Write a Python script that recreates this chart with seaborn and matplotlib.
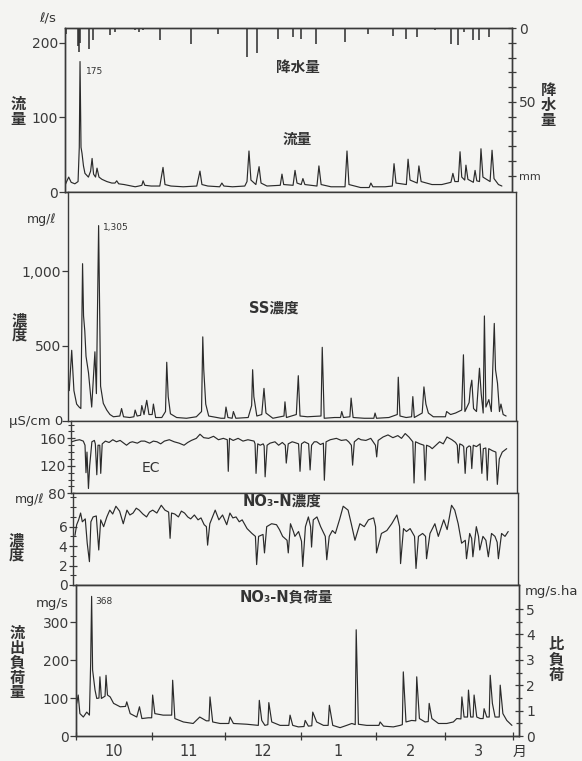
import numpy as np
import pandas as pd
import matplotlib
matplotlib.use("Agg")
import matplotlib.pyplot as plt
import seaborn as sns

# ---------------- data (day 0 = Oct 1) ----------------
month_labels = ["10", "11", "12", "1", "2", "3"]
month_edges = [0, 31, 61, 92, 123, 151, 179]
month_mid = [15.5, 46, 76.5, 107.5, 137, 165]

rain_day = [0.3, 5.4, 5.7, 6.0, 9.9, 11.5, 18.3, 20.3, 28.4, 30.2, 31.8, 38.6, 51.0, 62.3,
            73.8, 77.8, 86.6, 92.4, 95.7, 101.9, 113.7, 123.2, 133.3, 138.4, 142.8,
            150.2, 156.6, 159.7, 162.1, 165.8, 168.2, 172.3]
rain_mm = [3.8, 12, 16.2, 10, 13.9, 8.3, 4.9, 2.7, 1.6, 2.7, 1.6, 8.3, 10.5, 3.8,
           19.6, 16.9, 7.2, 6.1, 7.2, 10.5, 9.4, 3.8, 5.6, 7.2, 6.1,
           1.1, 10.5, 11.7, 2.7, 8.3, 7.8, 6.1]

flow_day = [0, 0.8, 1.5, 2.5, 4, 5.3, 5.8, 6.1, 6.5, 6.9, 7.5, 8.1, 9.5, 10.4, 11, 11.6, 12.4, 13,
            13.8, 15, 17, 19, 20.3, 21, 21.8, 24, 27, 28.5, 30, 31.2, 31.7, 32.4, 35, 38.5, 39.8,
            40.6, 43, 48, 53.5, 54.8, 55.6, 58, 62.8, 63.7, 64.5, 68, 73, 73.9, 74.7, 75.5, 77.5,
            78.8, 79.6, 82, 87.4, 88.1, 88.8, 92.6, 93.4, 94.2, 95.9, 96.6, 97.4, 102.3, 103.1,
            104, 108, 113.7, 114.5, 115.3, 120, 123.5, 124.2, 125, 130, 132.9, 133.6, 134.4,
            138.6, 139.3, 140.1, 143, 143.7, 144.6, 149, 153, 156.7, 157.5, 158.3, 159.7, 160.4,
            161.1, 162.3, 162.8, 163.6, 165.8, 166.5, 167.2, 168.3, 168.9, 169.7, 172.6, 173.4,
            174.2, 176, 177.4]
flow_val = [9, 15, 20, 13, 11, 14, 60, 175, 60, 52, 35, 25, 20, 28, 45, 24, 20, 32,
            20, 17, 14, 12, 12, 15, 11, 10, 8, 7, 8, 9, 15, 9, 8, 8, 33,
            10, 8, 7, 8, 28, 10, 8, 7, 12, 8, 7, 8, 14, 55, 16, 10,
            34, 12, 8, 9, 24, 10, 9, 29, 12, 10, 18, 10, 8, 35,
            10, 7, 7, 55, 10, 6, 6, 12, 7, 7, 8, 38, 12,
            10, 44, 16, 12, 35, 14, 10, 10, 13, 25, 14, 14, 54,
            20, 16, 36, 17, 13, 29, 15, 14, 58, 20, 14, 56,
            18, 10, 8]

ss_day = [0.5, 1.5, 2.4, 3.5, 4.5, 5.2, 5.9, 6.3, 6.8, 7.3, 8.3, 9.6, 10.9, 11.5, 12.4, 13.2,
          14.3, 15.7, 17, 18.4, 21, 21.7, 22.5, 25, 26.7, 27.2, 28, 29.4, 29.9, 30.8, 31.9,
          32.8, 34.1, 34.6, 35.5, 38, 39.5, 40, 40.6, 41.5, 44, 48, 52, 54.1, 54.6, 55, 55.8,
          57, 62, 63.5, 64, 64.8, 66.5, 67, 68, 73, 74.4, 74.8, 75.3, 76.5, 78.5, 79.4, 80.2,
          83, 87.5, 87.9, 88.5, 92.5, 93.3, 94, 97, 102.5, 103, 103.8, 108, 110.4, 110.9,
          111.6, 114.2, 114.7, 115.5, 120, 123.9, 124.4, 125, 130, 133.4, 133.8, 134.5, 137,
          139.2, 139.7, 140.3, 143.5, 144.2, 145, 146, 148, 152.9, 153.4, 155, 157, 159.5,
          160.2, 160.8, 162.5, 163, 163.6, 164.3, 165.5, 166.7, 167.4, 168.2, 168.7, 169.3,
          170.5, 171.5, 172.7, 173.2, 174, 174.8, 175.4, 176.3, 177.5]
ss_val = [200, 470, 200, 110, 90, 80, 1050, 700, 600, 430, 320, 90, 460, 180, 1305, 230,
          115, 70, 40, 25, 30, 80, 25, 20, 25, 70, 30, 35, 100, 40, 135,
          40, 40, 110, 20, 20, 60, 390, 160, 45, 20, 15, 25, 60, 560, 340, 110,
          30, 15, 15, 90, 20, 15, 60, 15, 20, 100, 340, 160, 30, 40, 215, 50,
          15, 30, 125, 20, 40, 300, 30, 25, 30, 490, 15, 20, 20, 60,
          20, 25, 150, 20, 15, 15, 50, 15, 20, 40, 290, 30, 20,
          25, 160, 20, 50, 225, 110, 50, 25, 25, 60, 40, 50, 70,
          440, 60, 120, 215, 270, 80, 60, 350, 180, 50, 700, 90,
          140, 60, 650, 340, 250, 60, 110, 40, 30]

ec_day = [0.3, 2, 3.5, 5, 5.7, 6.1, 6.5, 7.1, 7.6, 8.5, 9.5, 9.9, 10.5, 11, 11.7, 12.1, 12.7, 14,
          15.5, 17, 18.5, 20, 21.5, 22.6, 24, 25, 27, 28.5, 30, 32, 33.5, 35, 36.5, 38, 40,
          42, 44, 46, 47.5, 49, 51, 52.5, 54, 56, 58, 60, 62, 63.6, 64, 64.5, 66, 68, 70, 72,
          74.5, 74.9, 75.3, 76, 77, 78.2, 78.6, 79, 79.8, 81, 83, 84.5, 86, 87.2, 87.6, 88.4,
          90, 91, 92.6, 93.2, 93.8, 95, 96.7, 97.3, 97.9, 99, 100, 101.5, 102.7, 103.1, 103.8,
          105.5, 108, 110, 112, 113, 114.1, 114.6, 115.3, 117, 118, 120, 122, 123.9, 124.4,
          125, 127, 129, 131, 133, 134.5, 136, 137.5, 139.1, 139.6, 140.2, 142, 143.6, 144.1,
          144.7, 146, 147, 148.5, 150, 151.5, 153, 154.5, 155, 156.5, 157.2, 157.6, 158.2,
          159.3, 159.8, 160.4, 161, 162, 162.6, 163.1, 163.7, 165, 166.5, 167.2, 167.8,
          168.8, 169.4, 170, 171.5, 172.9, 173.5, 174.3, 175.5, 177.3]
ec_val = [155, 157, 158, 156, 150, 110, 140, 87, 120, 155, 157, 152, 107, 150, 150, 109, 152, 156,
          154, 158, 155, 157, 153, 150, 154, 155, 153, 156, 156, 153, 156, 155, 152, 156, 158,
          155, 153, 150, 154, 157, 160, 166, 161, 160, 163, 158, 160, 158, 112, 160, 157, 160, 156, 158,
          156, 152, 109, 152, 150, 152, 149, 104, 150, 153, 155, 150, 154, 150, 124, 152,
          155, 154, 152, 112, 152, 155, 152, 114, 150, 155, 155, 151, 153, 99, 155,
          158, 160, 157, 158, 155, 150, 121, 155, 160, 158, 157, 160, 150, 133,
          157, 162, 165, 161, 164, 160, 167, 162, 155, 95, 155, 152, 150, 99,
          150, 148, 145, 150, 155, 152, 162, 159, 158, 154, 150, 124, 152,
          150, 148, 109, 146, 149, 148, 116, 150, 148, 152, 109, 145,
          146, 99, 145, 142, 140, 93, 130, 140, 145]

no3_day = [0.8, 1.5, 2.3, 3.1, 3.8, 5, 5.8, 6.7, 7.3, 8.2, 9.5, 10.5, 11.3, 12.5, 13.8, 15, 16.2,
           17.5, 19, 20.5, 22, 23.2, 24.5, 25.8, 27, 28.5, 30, 31.2, 32.5, 34.2, 36, 37.5, 39,
           39.6, 40.2, 41.5, 43, 44.2, 45.5, 46.8, 48, 49.5, 51, 52.2, 53.5, 54.4, 54.9, 55.8,
           58, 59.5, 61, 62.7, 64, 65.2, 66.5, 67.8, 69, 71, 73, 74.4, 74.9, 75.7, 77.5, 78.1,
           79, 81, 83, 84.2, 85.5, 87.3, 87.8, 88.7, 89.9, 90.5, 92, 93.2, 93.7, 94.8, 96,
           96.9, 97.3, 98, 99.5, 101, 102.9, 103.5, 104.5, 105.8, 107, 108.8, 110.2, 112.2,
           113.5, 115, 117, 118.8, 120.5, 122.6, 123.4, 123.8, 125.8, 128, 130, 132.1, 133.2,
           133.6, 134.8, 136, 137.5, 139.3, 139.9, 140.9, 142.6, 143.8, 144.2, 145.6, 147.6,
           149, 151.2, 152.6, 154.4, 155.7, 157.1, 158.5, 160, 160.5, 161.8, 162.6, 163.1,
           164.5, 165.4, 165.9, 167.2, 168.4, 169.4, 170.7, 172.1, 173, 173.5, 174.8, 176.2,
           177.5]
no3_val = [5.1, 6.2, 6.7, 7.4, 6.5, 6.8, 4.3, 2.4, 6.5, 7.0, 7.1, 3.6, 6.7, 6.0, 7.0, 7.7, 7.3,
           8.1, 7.6, 6.3, 7.7, 7.2, 7.4, 7.9, 7.7, 7.3, 7.0, 7.5, 7.7, 7.4, 8.2, 7.7, 7.5,
           4.8, 7.4, 7.3, 7.0, 7.6, 7.4, 7.0, 6.8, 7.2, 6.7, 6.9, 6.2, 6.0, 4.1, 6.3,
           7.7, 6.7, 7.2, 6.2, 7.4, 6.9, 7.0, 6.5, 6.7, 5.8, 5.3, 5.0, 2.1, 5.0, 5.2, 3.3,
           6.0, 6.3, 6.2, 5.7, 5.0, 4.6, 3.3, 6.3, 5.5, 5.0, 5.5, 4.5, 1.9, 6.0, 7.0,
           6.0, 3.9, 6.7, 7.0, 6.0, 5.0, 2.6, 5.0, 5.6, 5.3, 6.8, 8.1, 7.7,
           6.3, 4.6, 6.3, 6.0, 6.7, 6.9, 6.0, 3.3, 5.3, 5.6, 6.3, 7.2, 6.0,
           2.2, 5.8, 5.5, 5.8, 5.0, 1.7, 5.0, 5.3, 5.0, 2.7, 5.3, 6.3,
           5.0, 6.7, 5.7, 8.2, 7.7, 6.3, 4.3, 4.6, 2.7, 5.3, 4.8, 2.9,
           6.0, 5.0, 3.6, 5.0, 4.6, 2.9, 5.3, 5.0, 4.4, 2.7, 5.3, 5.0,
           5.5]

load_day = [0.3, 0.9, 1.6, 3, 4.4, 5.5, 6, 6.4, 6.8, 7.8, 8.5, 9.4, 9.8, 10.4, 11.9, 12.3, 12.9,
            14, 15.4, 18.1, 20.3, 20.8, 22.2, 24.9, 26, 27, 29.6, 31, 31.4, 32.3, 35.7, 38.5,
            39.2, 39.6, 40.5, 44, 48, 50.7, 53.4, 54.5, 54.9, 56, 59, 62.6, 63.1, 64.5, 70, 74.7,
            75.1, 76.1, 77.4, 78.6, 79, 80.2, 83.6, 87.2, 87.7, 88.8, 91.1, 93.4, 93.9, 95.2,
            96.6, 97, 98.6, 101.4, 103.3, 103.8, 105.2, 108.2, 110.9, 113, 114.4, 114.8, 115.7,
            119.1, 121.9, 124.1, 124.6, 126, 130, 132.8, 133.7, 134.1, 135.2, 137.5, 139.2,
            139.6, 140.7, 143, 144.3, 144.7, 145.8, 148.5, 151.9, 154.6, 156, 157.7, 158.1,
            159, 160.4, 160.8, 161.7, 162.7, 163.1, 164.2, 165.6, 166.8, 167.2, 168.3, 169.3,
            169.7, 170.6, 171.7, 173.4, 173.8, 174.9, 176.5, 178.6]
load_val = [86, 108, 59, 50, 63, 55, 191, 368, 174, 121, 99, 100, 156, 99, 105, 160, 108,
            103, 86, 77, 78, 90, 59, 50, 77, 46, 48, 48, 108, 59, 55, 55,
            55, 147, 46, 37, 33, 50, 40, 40, 103, 37, 33, 33, 50, 33, 31, 28,
            94, 41, 28, 30, 88, 37, 28, 28, 55, 28, 24, 25, 41, 26,
            27, 63, 37, 28, 28, 81, 28, 22, 28, 33, 30, 280, 31,
            28, 28, 28, 37, 26, 24, 28, 30, 169, 37, 41, 40,
            156, 46, 37, 38, 86, 46, 33, 33, 37, 46, 45, 103,
            50, 50, 121, 50, 50, 108, 50, 46, 46, 72, 50, 50,
            160, 86, 50, 50, 134, 59, 41, 28]

# ---------------- style ----------------
W, H = 582, 761
BG = "#f4f4f2"
LC = "#2b2b2b"
sns.set_theme(style="white")
plt.rcParams['font.family'] = ['DejaVu Sans', 'Noto Sans CJK JP']
plt.rcParams['axes.edgecolor'] = "#3a3a3a"
plt.rcParams['axes.linewidth'] = 1.0
plt.rcParams['xtick.color'] = "#3a3a3a"
plt.rcParams['ytick.color'] = "#3a3a3a"
plt.rcParams['text.color'] = "#333333"

fig = plt.figure(figsize=(W / 100, H / 100), dpi=100, facecolor=BG)
XMAX = 181.5


def add_ax(left, right, top, bottom):
    a = fig.add_axes([left / W, 1 - bottom / H, (right - left) / W, (bottom - top) / H])
    a.set_facecolor(BG)
    a.set_xlim(0, XMAX)
    a.set_xticks([])
    for s in a.spines.values():
        s.set_visible(True)
        s.set_color("#3a3a3a")
    a.tick_params(axis='y', labelsize=10, length=4, width=0.9, pad=1, left=True)
    return a


def ftxt(px, py, s, **kw):
    kw.setdefault('ha', 'center')
    kw.setdefault('va', 'center')
    fig.text(px / W, 1 - py / H, s, **kw)


def line(a, d, v):
    sns.lineplot(x=d, y=v, ax=a, color=LC, lw=0.85, estimator=None, sort=False, legend=False)
    a.set_xlabel("")
    a.set_ylabel("")


TKW = dict(fontsize=10.5, ha='center', va='center', fontweight='bold')

# --- panel 1: flow + rainfall ---
ax1 = add_ax(65, 512, 28, 192)
line(ax1, flow_day, flow_val)
ax1.set_ylim(0, 220)
ax1.set_yticks([0, 100, 200])
ax1.text(8.6, 162, "175", fontsize=6.5, ha='left', va='center')
ax1.text(0.52, 0.76, "降水量", transform=ax1.transAxes, **TKW)
ax1.text(0.52, 0.32, "流量", transform=ax1.transAxes, **TKW)
ax1r = ax1.twinx()
ax1r.set_xlim(0, XMAX)
ax1r.vlines(rain_day, 0, rain_mm, color=LC, lw=1.1)
ax1r.set_ylim(111, 0)
ax1r.set_yticks(list(range(0, 101, 10)))
ax1r.set_yticklabels(['0', '', '', '', '', '50', '', '', '', '', 'mm'])
ax1r.tick_params(axis='y', labelsize=10, length=6, width=0.9, direction='inout', pad=2, right=True)
for lab in ax1r.get_yticklabels():
    if lab.get_text() == 'mm':
        lab.set_fontsize(8)
ax1r.grid(False)

# --- panel 2: SS ---
ax2 = add_ax(68, 516, 192, 420.5)
line(ax2, ss_day, ss_val)
ax2.set_ylim(0, 1530)
ax2.set_yticks([0, 500, 1000])
ax2.set_yticklabels(['', '500', '1,000'])
ax2.text(14.3, 1290, "1,305", fontsize=6.5, ha='left', va='center')
ax2.text(0.46, 0.49, "SS濃度", transform=ax2.transAxes, **TKW)

# --- panel 3: EC ---
ax3 = add_ax(71, 517, 420.5, 493.3)
line(ax3, ec_day, ec_val)
ax3.set_ylim(80, 186)
ax3.set_yticks([80, 120, 160])
ax3.set_yticks(list(range(90, 181, 10)), minor=True)
ax3.tick_params(axis='y', which='both', direction='inout', length=6)
ax3.tick_params(axis='y', which='minor', length=5, width=0.8, left=True)
ax3.text(32.5, 117, "EC", fontsize=10, ha='center', va='center')

# --- panel 4: NO3-N ---
ax4 = add_ax(73, 518, 493.3, 585)
line(ax4, no3_day, no3_val)
ax4.set_ylim(0, 9.43)
ax4.set_yticks([0, 2, 4, 6])
ax4.set_yticks([1, 3, 5, 7, 8, 9], minor=True)
ax4.tick_params(axis='y', which='both', direction='inout', length=6)
ax4.tick_params(axis='y', which='minor', length=5, width=0.8, left=True)
ax4.text(0.47, 0.92, "NO₃-N濃度", transform=ax4.transAxes, **TKW)

# --- panel 5: NO3-N load ---
ax5 = add_ax(76, 519, 585, 736)
line(ax5, load_day, load_val)
ax5.set_ylim(0, 398)
ax5.set_yticks([0, 100, 200, 300])
ax5.set_xticks(month_edges)
ax5.set_xticklabels([])
ax5.set_xticks(month_mid, minor=True)
ax5.set_xticklabels(month_labels, minor=True)
ax5.tick_params(axis='x', which='major', direction='inout', length=6, width=0.9, bottom=True)
ax5.tick_params(axis='x', which='minor', length=0, labelsize=10.5, pad=6, bottom=True)
ax5.text(7.8, 354, "368", fontsize=6.5, ha='left', va='center')
ax5.text(0.476, 0.92, "NO₃-N負荷量", transform=ax5.transAxes, **TKW)
ax5r = ax5.twinx()
ax5r.set_ylim(0, 398 / 66.9)
ax5r.set_yticks([0, 1, 2, 3, 4, 5])
ax5r.set_yticks([0.5, 1.5, 2.5, 3.5, 4.5], minor=True)
ax5r.tick_params(axis='y', which='both', direction='inout', length=6, width=0.9, labelsize=10, pad=2, right=True)
ax5r.tick_params(axis='y', which='minor', length=4)
ax5r.grid(False)

# --- outer labels ---
ftxt(48, 19, "ℓ/s", fontsize=9.5)
ftxt(18, 112, "流\n量", fontsize=11, linespacing=1.0, fontweight='bold')
ftxt(548, 105, "降\n水\n量", fontsize=11, linespacing=1.0, fontweight='bold')
ftxt(42, 219, "mg/ℓ", fontsize=9)
ftxt(19, 328, "濃\n度", fontsize=11, linespacing=1.0, fontweight='bold')
ftxt(63, 421, "μS/cm 0", fontsize=9.5, ha='right')
ftxt(30, 500, "mg/ℓ", fontsize=9)
ftxt(16, 548, "濃\n度", fontsize=11, linespacing=1.0, fontweight='bold')
ftxt(52, 603, "mg/s", fontsize=9.5)
ftxt(17, 663, "流\n出\n負\n荷\n量", fontsize=11, linespacing=1.0, fontweight='bold')
ftxt(552, 592, "mg/s.ha", fontsize=9.5)
ftxt(556, 660, "比\n負\n荷", fontsize=11, linespacing=1.0, fontweight='bold')
ftxt(520, 752, "月", fontsize=10)

fig.savefig("out.png", dpi=100, facecolor=BG)
